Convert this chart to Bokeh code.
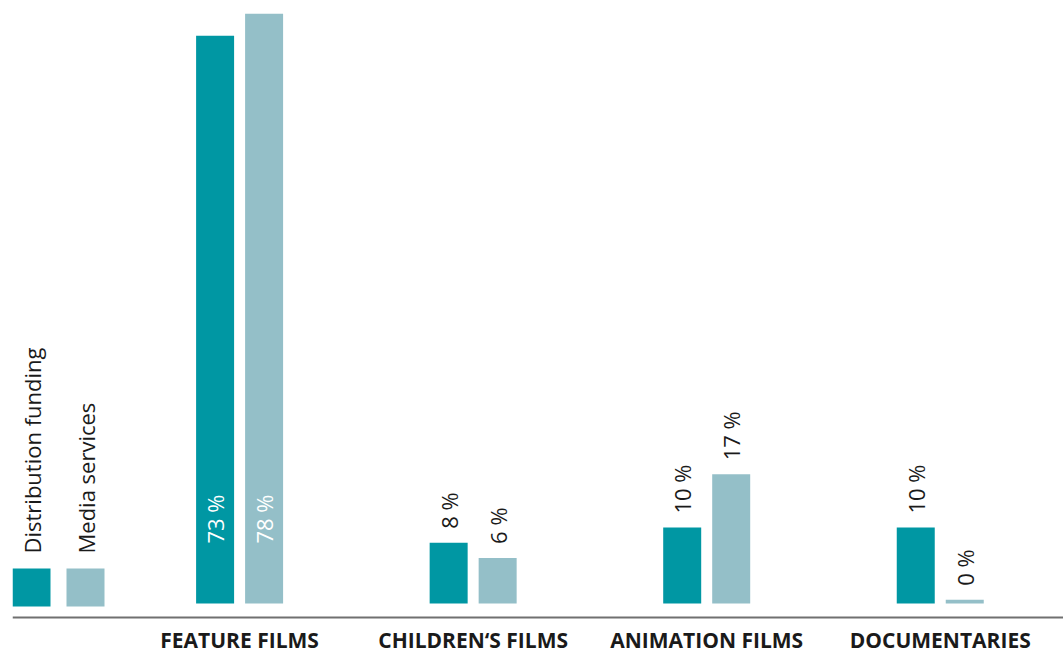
import math
from bokeh.plotting import figure
from bokeh.models import Range1d, FixedTicker, ColumnDataSource
from bokeh.core.properties import value
from bokeh.embed import file_html
from bokeh.resources import INLINE

# ---- data ----
categories = ["FEATURE FILMS", "CHILDREN\u2018S FILMS", "ANIMATION FILMS", "DOCUMENTARIES"]
series_names = ["Distribution funding", "Media services"]
distribution = [74.7, 8.0, 10.0, 10.0]
media = [77.6, 6.0, 17.0, 0.5]
distribution_labels = ["73 %", "8 %", "10 %", "10 %"]
media_labels = ["78 %", "6 %", "17 %", "0 %"]
colors = ["#0097a3", "#94bfc8"]

# ---- layout (pixels) ----
W, H = 1063, 655
BORDER_L = 12
FRAME_W = W - BORDER_L
FRAME_H = H
PX_PER_CAT = 233.55
FIRST_CENTER_PX = 239.1       # page px of first category centre
PX_PER_UNIT = 7.6
BASELINE_PX = 603             # page px of bar base
AXIS_PX = 617                 # page px of axis line

x_start = -(FIRST_CENTER_PX - BORDER_L) / PX_PER_CAT
x_end = x_start + FRAME_W / PX_PER_CAT
y_end = BASELINE_PX / PX_PER_UNIT
y_start = y_end - FRAME_H / PX_PER_UNIT

def dx(px):
    return px / PX_PER_CAT

def dy(px):
    return px / PX_PER_UNIT

def page_x(px):
    return x_start + (px - BORDER_L) / PX_PER_CAT

def page_y(py):
    return y_end - py / PX_PER_UNIT

bar_w = dx(38)
off = dx(24.5)
FONT = "Open Sans"

p = figure(width=W, height=H, output_backend="svg", toolbar_location=None,
           x_range=Range1d(x_start, x_end), y_range=Range1d(y_start, y_end),
           min_border_left=BORDER_L, min_border_right=0, min_border_top=0,
           min_border_bottom=0)
p.outline_line_color = None
p.background_fill_color = "white"
p.border_fill_color = "white"
p.xgrid.visible = False
p.ygrid.visible = False
p.yaxis.visible = False

idx = list(range(len(categories)))
for k, (vals, labs) in enumerate([(distribution, distribution_labels), (media, media_labels)]):
    xs = [i + (-off if k == 0 else off) for i in idx]
    src = ColumnDataSource(dict(x=xs, top=vals))
    p.vbar(x="x", top="top", bottom=0, width=bar_w, source=src,
           fill_color=colors[k], line_color=None)
    inside = [v > 50 for v in vals]
    ly = [dy(60) if ins else v + dy(14) for v, ins in zip(vals, inside)]
    lc = ["white" if ins else "#1a1a1a" for ins in inside]
    lsrc = ColumnDataSource(dict(x=xs, y=ly, t=labs, c=lc))
    p.text(x="x", y="y", text="t", source=lsrc, angle=math.pi / 2,
           text_align="left", text_baseline="middle", text_color="c",
           text_font=value(FONT), text_font_size="22px")

# legend (drawn manually: rotated labels above squares)
leg_centers = [31, 85]
for k, name in enumerate(series_names):
    cx = page_x(leg_centers[k])
    p.rect(x=[cx], y=[page_y(587)], width=bar_w, height=dy(38),
           fill_color=colors[k], line_color=None)
    p.text(x=[cx], y=[page_y(553)], text=[name], angle=math.pi / 2,
           text_align="left", text_baseline="middle", text_color="#1a1a1a",
           text_font=value(FONT), text_font_size="22px")

ax = p.xaxis[0]
ax.fixed_location = page_y(AXIS_PX)
ax.ticker = FixedTicker(ticks=idx)
ax.major_label_overrides = {i: c for i, c in enumerate(categories)}
ax.major_tick_line_color = None
ax.major_tick_out = 0
ax.major_tick_in = 0
ax.minor_tick_line_color = None
ax.axis_line_color = "#707070"
ax.axis_line_width = 2
ax.major_label_standoff = 8
ax.major_label_text_font = FONT
ax.major_label_text_font_style = "bold"
ax.major_label_text_font_size = "21px"
ax.major_label_text_color = "#1a1a1a"

open("out.html", "w").write(file_html(p, INLINE))
